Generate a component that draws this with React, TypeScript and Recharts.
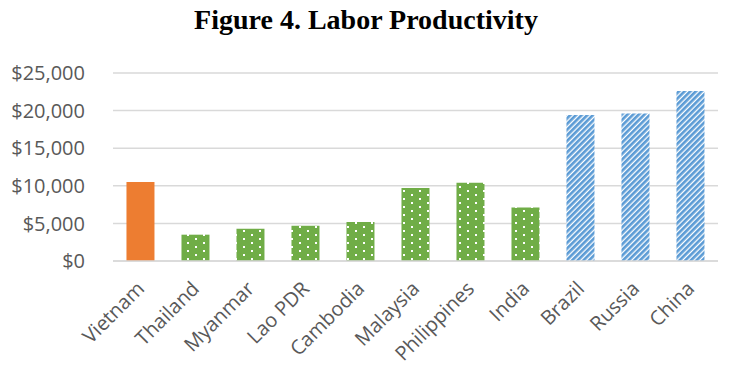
import { BarChart, Bar, XAxis, YAxis, CartesianGrid, Cell } from "recharts";

const countries = [
  "Vietnam",
  "Thailand",
  "Myanmar",
  "Lao PDR",
  "Cambodia",
  "Malaysia",
  "Philippines",
  "India",
  "Brazil",
  "Russia",
  "China",
];
const productivity = [10500, 3500, 4300, 4700, 5200, 9700, 10400, 7100, 19400, 19600, 22600];
const groups = ["vn", "asean", "asean", "asean", "asean", "asean", "asean", "asean", "brics", "brics", "brics"];
const yTicks = [0, 5000, 10000, 15000, 20000, 25000];

const fills: Record<string, string> = {
  vn: "#ED7D31",
  asean: "url(#dots)",
  brics: "url(#stripes)",
};

const rows = countries.map((c, i) => ({ country: c, value: productivity[i], group: groups[i] }));

const fmt = (v: number) => "$" + v.toLocaleString("en-US");

function CountryTick(props: any) {
  const { x, y, payload } = props;
  const ax = x + 5;
  const ay = y + 21;
  return (
    <text
      x={ax}
      y={ay}
      transform={`rotate(-45, ${ax}, ${ay})`}
      textAnchor="end"
      fontSize={20}
      fill="#595959"
      fontFamily="'Open Sans', sans-serif"
    >
      {payload.value}
    </text>
  );
}

export default function App() {
  return (
    <div style={{ position: "relative", width: 720, height: 363, fontFamily: "'Open Sans', sans-serif" }}>
      <div
        style={{
          position: "absolute",
          top: -4,
          left: 0,
          width: 716,
          textAlign: "center",
          fontFamily: "'Liberation Serif', 'Times New Roman', serif",
          fontWeight: "bold",
          fontSize: 28,
          color: "#000",
        }}
      >
        Figure 4. Labor Productivity
      </div>
      <BarChart
        width={720}
        height={363}
        data={rows}
        margin={{ top: 65, right: 10, bottom: 10, left: 0 }}
        barCategoryGap="24.5%"
      >
        <defs>
          <pattern id="dots" width="16" height="8" patternUnits="userSpaceOnUse">
            <rect width="16" height="8" fill="#70AD47" />
            <rect x="3" y="2" width="2" height="2" fill="#fff" />
            <rect x="11" y="6" width="2" height="2" fill="#fff" />
          </pattern>
          <pattern
            id="stripes"
            width="4"
            height="4"
            patternUnits="userSpaceOnUse"
            patternTransform="rotate(45)"
          >
            <rect width="4" height="4" fill="#fff" />
            <rect width="2.7" height="4" fill="#5B9BD5" />
          </pattern>
        </defs>
        <CartesianGrid vertical={false} stroke="#D9D9D9" strokeWidth={1.5} />
        <XAxis
          dataKey="country"
          interval={0}
          height={100}
          tick={<CountryTick />}
          tickLine={false}
          axisLine={{ stroke: "#D9D9D9", strokeWidth: 1.5 }}
        />
        <YAxis
          width={105}
          domain={[0, 25000]}
          ticks={yTicks}
          tickFormatter={fmt}
          tickLine={false}
          axisLine={false}
          tickSize={0}
          tickMargin={28}
          tick={{ fontSize: 20, fill: "#595959" }}
        />
        <Bar dataKey="value" isAnimationActive={false}>
          {rows.map((r) => (
            <Cell key={r.country} fill={fills[r.group]} />
          ))}
        </Bar>
      </BarChart>
    </div>
  );
}
